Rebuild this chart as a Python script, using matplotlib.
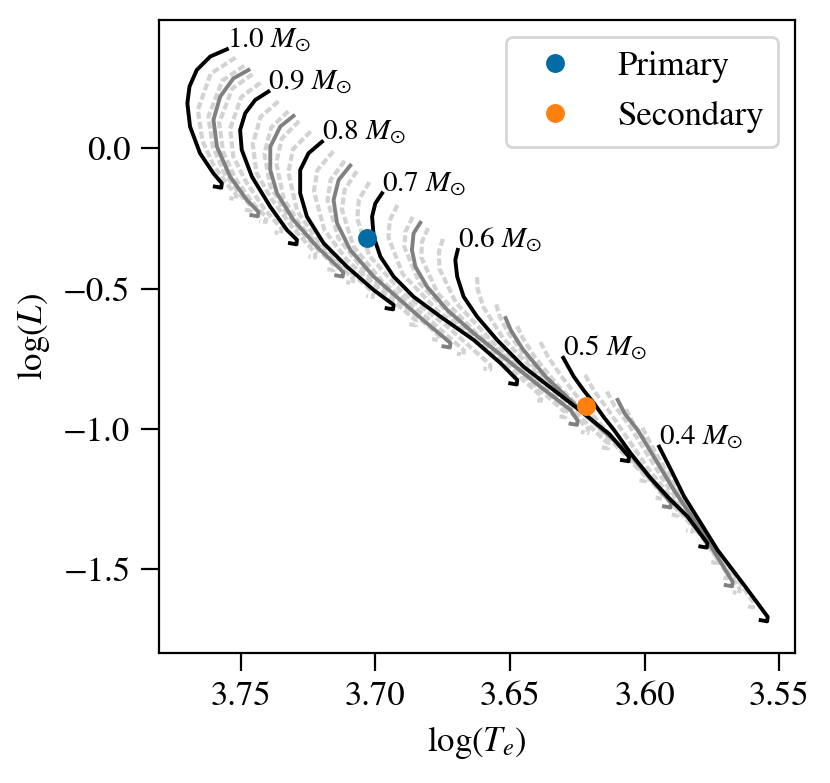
import matplotlib
matplotlib.use("Agg")
from matplotlib import pyplot as plt

plt.rcParams['font.family'] = 'serif'
plt.rcParams['font.serif'] = ['STIXGeneral', 'Liberation Serif', 'DejaVu Serif']
plt.rcParams['mathtext.fontset'] = 'stix'

# evolutionary tracks, log(Te) / log(L)
# black tracks (0.1 Msun steps)
t100 = [3.7551, 3.7613, 3.7663, 3.7690, 3.7698, 3.7688, 3.7651, 3.7601, 3.7570, 3.7572, 3.7596]
l100 = [0.354, 0.328, 0.280, 0.221, 0.161, 0.078, -0.017, -0.089, -0.124, -0.140, -0.136]
t090 = [3.7397, 3.7446, 3.7483, 3.7502, 3.7496, 3.7458, 3.7390, 3.7328, 3.7291, 3.7293, 3.7317]
l090 = [0.203, 0.173, 0.126, 0.066, -0.005, -0.101, -0.208, -0.291, -0.326, -0.342, -0.338]
t080 = [3.7198, 3.7248, 3.7279, 3.7279, 3.7254, 3.7192, 3.7105, 3.7006, 3.6932, 3.6934, 3.6958]
l080 = [0.024, -0.017, -0.077, -0.160, -0.243, -0.338, -0.422, -0.505, -0.558, -0.574, -0.570]
t070 = [3.6975, 3.7000, 3.7012, 3.7006, 3.6981, 3.6932, 3.6858, 3.6758, 3.6635, 3.6535, 3.6473, 3.6475, 3.6499]
l070 = [-0.160, -0.196, -0.243, -0.315, -0.386, -0.457, -0.529, -0.600, -0.683, -0.766, -0.826, -0.842, -0.838]
t060 = [3.6694, 3.6703, 3.6696, 3.6672, 3.6622, 3.6548, 3.6449, 3.6337, 3.6226, 3.6130, 3.6058, 3.6060, 3.6084]
l060 = [-0.362, -0.398, -0.457, -0.529, -0.600, -0.683, -0.779, -0.862, -0.945, -1.020, -1.100, -1.116, -1.112]
t050 = [3.6302, 3.6263, 3.6227, 3.6188, 3.6152, 3.6114, 3.6052, 3.5978, 3.5910, 3.5840, 3.5767, 3.5769, 3.5793]
l050 = [-0.747, -0.814, -0.862, -0.909, -0.958, -1.004, -1.087, -1.176, -1.247, -1.314, -1.408, -1.424, -1.420]
t040 = [3.5946, 3.5902, 3.5853, 3.5791, 3.5729, 3.5631, 3.5543, 3.5545, 3.5569]
l040 = [-1.064, -1.147, -1.242, -1.337, -1.433, -1.557, -1.671, -1.687, -1.683]

# gray tracks (half steps)
t095 = [3.7471, 3.7527, 3.7576, 3.7601, 3.7588, 3.7539, 3.7477, 3.7434, 3.7436, 3.7460]
l095 = [0.280, 0.250, 0.185, 0.102, 0.006, -0.101, -0.184, -0.226, -0.242, -0.238]
t085 = [3.7304, 3.7353, 3.7390, 3.7390, 3.7365, 3.7304, 3.7217, 3.7119, 3.7121, 3.7145]
l085 = [0.116, 0.078, 0.006, -0.077, -0.160, -0.255, -0.350, -0.441, -0.457, -0.453]
t075 = [3.7093, 3.7136, 3.7155, 3.7142, 3.7093, 3.7006, 3.6907, 3.6814, 3.6721, 3.6723, 3.6747]
l075 = [-0.061, -0.112, -0.184, -0.267, -0.362, -0.457, -0.541, -0.619, -0.694, -0.710, -0.706]
t065 = [3.6833, 3.6858, 3.6864, 3.6851, 3.6808, 3.6733, 3.6635, 3.6510, 3.6387, 3.6275, 3.6249, 3.6251, 3.6275]
l065 = [-0.265, -0.303, -0.362, -0.422, -0.493, -0.576, -0.659, -0.755, -0.850, -0.933, -0.970, -0.986, -0.982]
t055 = [3.6516, 3.6497, 3.6453, 3.6367, 3.6218, 3.6051, 3.5902, 3.5904, 3.5928]
l055 = [-0.605, -0.648, -0.715, -0.815, -0.951, -1.094, -1.265, -1.281, -1.277]
t045 = [3.6100, 3.6073, 3.6026, 3.5952, 3.5891, 3.5791, 3.5673, 3.5675, 3.5699]
l045 = [-0.897, -0.947, -1.004, -1.122, -1.219, -1.361, -1.546, -1.562, -1.558]

# light dashed tracks (0.02 steps)
t098 = [3.7519, 3.7611, 3.7659, 3.7642, 3.7601, 3.7552, 3.7516, 3.7518, 3.7542]
l098 = [0.324, 0.267, 0.138, 0.027, -0.059, -0.126, -0.165, -0.181, -0.177]
t096 = [3.7487, 3.7568, 3.7620, 3.7603, 3.7560, 3.7502, 3.7461, 3.7463, 3.7487]
l096 = [0.295, 0.242, 0.114, 0.006, -0.088, -0.165, -0.206, -0.222, -0.218]
t094 = [3.7456, 3.7531, 3.7580, 3.7565, 3.7520, 3.7455, 3.7405, 3.7407, 3.7431]
l094 = [0.265, 0.214, 0.091, -0.012, -0.107, -0.195, -0.246, -0.262, -0.258]
t092 = [3.7427, 3.7498, 3.7539, 3.7528, 3.7481, 3.7412, 3.7348, 3.7350, 3.7374]
l092 = [0.234, 0.183, 0.070, -0.027, -0.117, -0.216, -0.287, -0.303, -0.299]
t088 = [3.7360, 3.7426, 3.7455, 3.7441, 3.7387, 3.7308, 3.7222, 3.7224, 3.7248]
l088 = [0.168, 0.113, 0.015, -0.088, -0.178, -0.282, -0.373, -0.389, -0.385]
t086 = [3.7323, 3.7387, 3.7412, 3.7390, 3.7332, 3.7247, 3.7153, 3.7155, 3.7179]
l086 = [0.133, 0.074, -0.018, -0.135, -0.229, -0.327, -0.418, -0.434, -0.430]
t084 = [3.7283, 3.7347, 3.7368, 3.7340, 3.7277, 3.7185, 3.7082, 3.7084, 3.7108]
l084 = [0.098, 0.036, -0.051, -0.180, -0.276, -0.372, -0.465, -0.481, -0.477]
t082 = [3.7240, 3.7306, 3.7323, 3.7291, 3.7222, 3.7120, 3.7007, 3.7009, 3.7033]
l082 = [0.061, -0.003, -0.086, -0.221, -0.319, -0.417, -0.514, -0.530, -0.526]
t078 = [3.7156, 3.7215, 3.7228, 3.7189, 3.7103, 3.6981, 3.6848, 3.6850, 3.6874]
l078 = [-0.010, -0.077, -0.153, -0.291, -0.401, -0.505, -0.615, -0.631, -0.627]
t076 = [3.7114, 3.7166, 3.7177, 3.7137, 3.7039, 3.6906, 3.6763, 3.6765, 3.6789]
l076 = [-0.044, -0.112, -0.186, -0.320, -0.440, -0.548, -0.668, -0.684, -0.680]
t074 = [3.7069, 3.7114, 3.7124, 3.7081, 3.6972, 3.6824, 3.6671, 3.6673, 3.6697]
l074 = [-0.081, -0.148, -0.218, -0.350, -0.477, -0.590, -0.720, -0.736, -0.732]
t072 = [3.7022, 3.7061, 3.7067, 3.7022, 3.6902, 3.6735, 3.6572, 3.6574, 3.6598]
l072 = [-0.120, -0.183, -0.251, -0.383, -0.512, -0.633, -0.773, -0.789, -0.785]
t068 = [3.6918, 3.6947, 3.6951, 3.6898, 3.6765, 3.6572, 3.6383, 3.6385, 3.6409]
l068 = [-0.202, -0.258, -0.318, -0.449, -0.582, -0.722, -0.884, -0.900, -0.896]
t066 = [3.6861, 3.6888, 3.6892, 3.6835, 3.6698, 3.6497, 3.6293, 3.6295, 3.6319]
l066 = [-0.244, -0.297, -0.352, -0.482, -0.616, -0.767, -0.943, -0.959, -0.955]
t064 = [3.6804, 3.6827, 3.6829, 3.6769, 3.6628, 3.6423, 3.6210, 3.6212, 3.6236]
l064 = [-0.284, -0.334, -0.389, -0.516, -0.656, -0.814, -0.999, -1.015, -1.011]
t062 = [3.6749, 3.6764, 3.6762, 3.6700, 3.6553, 3.6348, 3.6134, 3.6136, 3.6160]
l062 = [-0.323, -0.369, -0.429, -0.551, -0.702, -0.861, -1.054, -1.070, -1.066]
t058 = [3.6622, 3.6620, 3.6598, 3.6525, 3.6375, 3.6185, 3.5996, 3.5998, 3.6022]
l058 = [-0.459, -0.502, -0.567, -0.678, -0.829, -0.982, -1.171, -1.187, -1.183]
t056 = [3.6551, 3.6538, 3.6501, 3.6420, 3.6270, 3.6096, 3.5933, 3.5935, 3.5959]
l056 = [-0.556, -0.599, -0.666, -0.769, -0.910, -1.057, -1.234, -1.250, -1.246]
t054 = [3.6473, 3.6450, 3.6405, 3.6322, 3.6185, 3.6023, 3.5875, 3.5877, 3.5901]
l054 = [-0.634, -0.681, -0.748, -0.846, -0.979, -1.125, -1.294, -1.310, -1.306]
t052 = [3.6387, 3.6357, 3.6308, 3.6233, 3.6118, 3.5966, 3.5820, 3.5822, 3.5846]
l052 = [-0.691, -0.746, -0.814, -0.907, -1.034, -1.186, -1.351, -1.367, -1.363]
t048 = [3.6221, 3.6187, 3.6137, 3.6067, 3.5987, 3.5862, 3.5729, 3.5731, 3.5755]
l048 = [-0.808, -0.866, -0.930, -1.030, -1.142, -1.293, -1.463, -1.479, -1.475]
t046 = [3.6140, 3.6111, 3.6063, 3.5990, 3.5923, 3.5815, 3.5692, 3.5694, 3.5718]
l046 = [-0.867, -0.920, -0.979, -1.091, -1.193, -1.338, -1.518, -1.534, -1.530]
t044 = [3.6069, 3.6039, 3.5991, 3.5920, 3.5859, 3.5759, 3.5647, 3.5649, 3.5673]
l044 = [-0.930, -0.987, -1.052, -1.165, -1.262, -1.400, -1.571, -1.587, -1.583]
t042 = [3.6008, 3.5970, 3.5922, 3.5855, 3.5794, 3.5695, 3.5595, 3.5597, 3.5621]
l042 = [-0.997, -1.067, -1.147, -1.251, -1.347, -1.479, -1.621, -1.637, -1.633]

# the binary components
primary_logt, primary_logl = 3.7031, -0.319
secondary_logt, secondary_logl = 3.6219, -0.919

black_masses = [1.0, 0.9, 0.8, 0.7, 0.6, 0.5, 0.4]
black_tracks = [(t100, l100), (t090, l090), (t080, l080), (t070, l070),
                (t060, l060), (t050, l050), (t040, l040)]
gray_tracks = [(t095, l095), (t085, l085), (t075, l075), (t065, l065),
               (t055, l055), (t045, l045)]
light_tracks = [(t098, l098), (t096, l096), (t094, l094), (t092, l092),
                (t088, l088), (t086, l086), (t084, l084), (t082, l082),
                (t078, l078), (t076, l076), (t074, l074), (t072, l072),
                (t068, l068), (t066, l066), (t064, l064), (t062, l062),
                (t058, l058), (t056, l056), (t054, l054), (t052, l052),
                (t048, l048), (t046, l046), (t044, l044), (t042, l042)]

fig = plt.figure(figsize=(4.15, 3.915), dpi=200)
ax = fig.add_axes([0.191, 0.1664, 0.767, 0.8083])

for t, l in light_tracks:
    ax.plot(t, l, color='lightgray', lw=1.5, dashes=(1.7, 0.7), zorder=1)
for t, l in gray_tracks:
    ax.plot(t, l, color='gray', lw=1.4, zorder=2)
for (t, l), m in zip(black_tracks, black_masses):
    ax.plot(t, l, color='black', lw=1.4, zorder=3)
    ax.annotate(f'{m:.1f} $M_{{\\odot}}$', (t[0], l[0]), xytext=(0, 1),
                textcoords='offset points', ha='left', va='baseline',
                fontsize=10.5, zorder=4)

ax.plot(primary_logt, primary_logl, 'o', color='#006BA4', ms=5.8, label='Primary', zorder=5)
ax.plot(secondary_logt, secondary_logl, 'o', color='#FF800E', ms=5.8, label='Secondary', zorder=5)

ax.set_xlim(3.7805, 3.5441)
ax.set_ylim(-1.799, 0.459)
ax.set_xticks([3.75, 3.70, 3.65, 3.60, 3.55])
ax.set_yticks([0.0, -0.5, -1.0, -1.5])
ax.set_xticklabels(['3.75', '3.70', '3.65', '3.60', '3.55'])
ax.set_yticklabels(['0.0', '\u22120.5', '\u22121.0', '\u22121.5'])
ax.tick_params(direction='out', length=6.5, width=0.8, labelsize=12.5, pad=3.6)
for sp in ax.spines.values():
    sp.set_linewidth(0.8)

ax.set_xlabel(r'$\log(T_e)$', fontsize=12.5)
ax.set_ylabel(r'$\log(L)$', fontsize=12.5)
ax.legend(loc='upper right', fontsize=12.5, numpoints=1)

fig.savefig('out.png', dpi=200)
